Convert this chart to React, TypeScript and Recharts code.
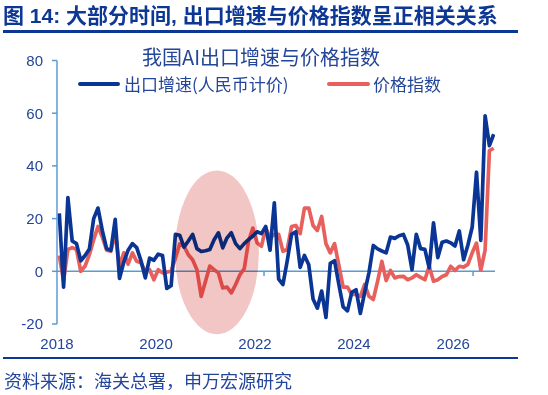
import { LineChart, Line, XAxis, YAxis, ReferenceLine, ReferenceArea } from 'recharts'

// x = sample index along the time axis
const EXPORT_GROWTH = [
  22, -6, 28, 11.5, 10.5, 4, 6, 8.5, 20, 24,
  15.5, 8.6, 8, 19.7, -2.7, 3.5, 8, 10.5, 9, 4,
  -2.5, 5, 4.2, 6.5, 6, -6.5, -5.5, 14, 13.7, 9.2,
  11.5, 14, 8.6, 7.5, 7.8, 8.3, 12, 14.6, 8.9, 12.7,
  14.6, 10.5, 8.6, 10.5, 12, 13.4, 15, 14.3, 17, 8,
  26, -3, -5, 4, 14, 15, 1.5, 6, 2.5, -10.5,
  -14, -7.5, -17.5, 3, 4, -5, -13.5, -15, -8, -7,
  -16, -8, -0.5, 9.8, 8.5, 7.7, 7, 13, 12.5, 13.5,
  14, 10, 0.6, 14, 8.6, 8.3, 1.3, 18.4, 5.2, 11,
  11.5, 10.8, 9.6, 15.3, 4.4, 10, 16.8, 37.6, 11.7, 59,
  47.7, 52,
]

const PRICE_INDEX = [
  6, -3.7, 8.3, 9, 8.3, 0, 2, 6.3, 12, 17,
  13, 8, 7.6, 14.6, 2, 7, 2.7, 7, 3.8, 3.2,
  0, 0.6, -3.2, 0.6, -0.6, -0.3, 0, 5, 10.4, 9.5,
  6.3, 4.4, 0.6, -9.5, -3.8, 2, 0.6, -0.6, -6.3, -6,
  -8.2, -5, -1.3, 1, 11.4, 16.4, 10.7, 9.5, 16.4, 12.6,
  14, 14, 7.6, 8.3, 17, 17.4, 14.3, 24, 24, 17.4,
  15.5, 20.8, 10.5, 7, 10.5, 2.3, -6, -6, -8.8, -8.8,
  -9.5, -5, -9.5, -10.7, -3.8, 3.8, -3.5, 0.3, -2.5, -2,
  -1.9, -3.2, -2.5, -1.3, -2.3, -3.2, 1.9, -3.8, -3.2, -2,
  -1.3, 1.9, 0.3, 1.9, 1.6, 2.6, 7, 10.7, 0.4, 8,
  45.8, 46.7,
]

const YEAR_LABELS = ['2018', '2020', '2022', '2024', '2026']
const YEAR_TICKS = [-0.53, 22.5, 45.5, 68.5, 91.6]
const AXIS_MARKS = [47.6, 96.2]
const Y_TICKS = [-20, 0, 20, 40, 60, 80]

const SERIES_NAMES = ['出口增速(人民币计价)', '价格指数']
const BLUE = '#0B3595'
const RED = '#E8605D'
const TEXT = '#23459A'
const NAVY = '#0D3794'

const data = EXPORT_GROWTH.map((v, i) => ({ x: i, exp: v, price: PRICE_INDEX[i] }))

const latin = "'Liberation Sans', 'Noto Sans CJK SC', sans-serif"
const cjk = "'Noto Sans CJK SC', 'Liberation Sans', sans-serif"

const Ellipse = (p: any) => (
  <ellipse
    cx={p.x + p.width / 2}
    cy={p.y + p.height / 2}
    rx={p.width / 2}
    ry={p.height / 2}
    fill="#F3C6C6"
    style={{ mixBlendMode: 'multiply' }}
  />
)

export default function App() {
  return (
    <div style={{ position: 'absolute', left: 0, top: 0, width: 548, height: 395, background: '#fff', overflow: 'hidden' }}>
      <div style={{ position: 'absolute', left: 3, top: 4, fontFamily: latin, fontWeight: 700, fontSize: 21, lineHeight: '24px', color: NAVY, whiteSpace: 'nowrap' }}>
        图 14: 大部分时间, 出口增速与价格指数呈正相关关系
      </div>
      <div style={{ position: 'absolute', left: 3, top: 30, width: 515, height: 2.5, background: NAVY }} />

      <LineChart width={548} height={395} data={data} margin={{ top: 60.5, right: 53, bottom: 41, left: 0 }}
        style={{ position: 'absolute', left: 0, top: 0 }}>
        <XAxis
          dataKey="x" type="number" domain={[-0.53, 101.3]} ticks={YEAR_TICKS}
          tickFormatter={(v: number) => YEAR_LABELS[YEAR_TICKS.indexOf(v)] ?? ''}
          axisLine={false} tickLine={false} tickSize={0} tickMargin={14} height={30}
          tick={{ fill: TEXT, fontSize: 15, fontFamily: latin }} allowDataOverflow interval={0}
        />
        <YAxis
          domain={[-20, 80]} ticks={Y_TICKS} width={57}
          axisLine={{ stroke: '#5B9BD5', strokeWidth: 1.5 }}
          tickLine={{ stroke: '#5B9BD5', strokeWidth: 1.5 }} tickSize={5} tickMargin={9}
          tick={{ fill: TEXT, fontSize: 15, fontFamily: latin }} interval={0}
        />
        <ReferenceLine y={0} stroke="#5B9BD5" strokeWidth={1.5} />
        {AXIS_MARKS.map((m) => (
          <ReferenceLine key={m} segment={[{ x: m, y: 0 }, { x: m, y: -1.8 }]} stroke="#5B9BD5" strokeWidth={1.5} />
        ))}
        <Line type="linear" dataKey="price" stroke={RED} strokeWidth={3.7} strokeLinejoin="round" dot={false} isAnimationActive={false} />
        <Line type="linear" dataKey="exp" stroke={BLUE} strokeWidth={3.7} strokeLinejoin="round" dot={false} isAnimationActive={false} />
        <ReferenceArea x1={26.9} x2={46.4} y1={-23.9} y2={38.3} ifOverflow="visible" shape={<Ellipse />} zIndex={450} />
      </LineChart>

      <div style={{ position: 'absolute', left: 0, width: 522, top: 44, textAlign: 'center', fontFamily: cjk, fontSize: 20, lineHeight: '26px', color: TEXT, whiteSpace: 'nowrap' }}>
        我国AI出口增速与价格指数
      </div>
      <div style={{ position: 'absolute', left: 78, top: 82, width: 42, height: 4, background: BLUE, borderRadius: 2 }} />
      <div style={{ position: 'absolute', left: 124, top: 72, fontFamily: cjk, fontSize: 17, lineHeight: '24px', color: TEXT, whiteSpace: 'nowrap' }}>
        {SERIES_NAMES[0]}
      </div>
      <div style={{ position: 'absolute', left: 327, top: 82, width: 43, height: 4, background: RED, borderRadius: 2 }} />
      <div style={{ position: 'absolute', left: 373, top: 72, fontFamily: cjk, fontSize: 17, lineHeight: '24px', color: TEXT, whiteSpace: 'nowrap' }}>
        {SERIES_NAMES[1]}
      </div>

      <div style={{ position: 'absolute', left: 3, top: 357, width: 515, height: 2, background: NAVY }} />
      <div style={{ position: 'absolute', left: 4, top: 368, fontFamily: cjk, fontSize: 18, lineHeight: '24px', color: TEXT, whiteSpace: 'nowrap' }}>
        资料来源：海关总署，申万宏源研究
      </div>
    </div>
  )
}
